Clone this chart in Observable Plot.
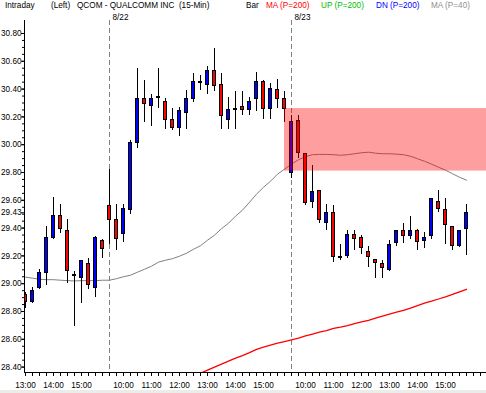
<!DOCTYPE html>
<html><head><meta charset="utf-8">
<script src="https://cdn.jsdelivr.net/npm/d3@7"></script>
<script src="https://cdn.jsdelivr.net/npm/@observablehq/plot@0.6"></script>
<style>
html,body{margin:0;padding:0;background:#ecece8;}
#wrap{position:relative;width:486px;height:393px;overflow:hidden;background:#ecece8;}
#hdr{position:absolute;left:0;top:0;width:486px;height:20px;font-family:"Liberation Sans",Arial,sans-serif;font-size:8.2px;line-height:10px;}
#hdr span{position:absolute;top:0.5px;white-space:pre;}
svg{display:block;}
</style></head><body>
<div id="wrap"><div id="chart"></div><div id="hdr"></div></div>
<script>
// ---- data ----
const dates = ["8/21", "8/22", "8/23"];
const firstBarTime = ["13:00", "9:30", "9:30"];
const barCounts = [12, 26, 26];

const opens  = [28.92,28.87,28.97,29.08,29.33,29.49,29.38,29.06,29.04,29.14,28.97,29.31,
  29.56,29.46,29.36,29.53,30.01,30.33,30.28,30.34,30.31,30.18,30.12,30.23,30.33,30.45,30.43,30.53,30.43,30.18,30.26,30.27,30.25,30.33,30.45,30.26,30.39,30.33,
  29.80,30.17,29.93,29.59,29.67,29.44,29.51,29.19,29.20,29.35,29.33,29.23,29.17,29.14,29.10,29.29,29.38,29.34,29.38,29.31,29.34,29.59,29.53,29.41,29.27,29.39];
const highs  = [28.94,28.97,29.10,29.41,29.62,29.57,29.46,29.09,29.17,29.18,29.34,29.32,
  29.82,29.57,29.57,30.03,30.55,30.46,30.36,30.55,30.33,30.26,30.27,30.39,30.51,30.50,30.56,30.69,30.51,30.34,30.38,30.38,30.34,30.52,30.46,30.44,30.47,30.38,
  30.21,30.21,29.93,29.85,29.67,29.57,29.56,29.28,29.38,29.38,29.35,29.27,29.17,29.17,29.31,29.38,29.43,29.48,29.39,29.37,29.61,29.67,29.61,29.41,29.38,29.57];
const lows   = [28.82,28.86,28.96,28.99,29.32,29.36,29.00,28.69,28.86,28.96,28.90,29.18,
  29.28,29.24,29.30,29.50,29.97,30.16,30.13,30.26,30.11,30.10,30.06,30.11,30.30,30.39,30.36,30.38,30.11,30.11,30.11,30.21,30.21,30.24,30.18,30.18,30.26,30.16,
  29.76,29.90,29.56,29.54,29.43,29.38,29.15,29.17,29.18,29.24,29.21,29.12,29.04,29.04,29.09,29.27,29.29,29.32,29.24,29.25,29.32,29.51,29.28,29.24,29.26,29.20];
const closes = [28.87,28.95,29.08,29.33,29.49,29.39,29.09,29.06,29.16,28.99,29.33,29.25,
  29.46,29.32,29.54,30.01,30.33,30.29,30.33,30.34,30.18,30.12,30.24,30.33,30.45,30.45,30.53,30.42,30.21,30.25,30.26,30.25,30.31,30.45,30.26,30.40,30.33,30.26,
  30.16,29.94,29.58,29.66,29.46,29.51,29.19,29.19,29.35,29.32,29.26,29.19,29.15,29.11,29.28,29.38,29.34,29.38,29.30,29.33,29.61,29.54,29.42,29.27,29.38,29.51];
// MA (P=40), gray
const ma40 = [29.047,29.040,29.032,29.029,29.029,29.025,29.022,29.020,29.022,29.022,29.022,29.025,
  29.025,29.036,29.050,29.061,29.083,29.104,29.126,29.155,29.169,29.180,29.198,29.219,29.248,29.273,29.313,29.349,29.396,29.435,29.486,29.529,29.586,29.644,29.694,29.737,29.788,29.824,
  29.860,29.892,29.914,29.928,29.930,29.930,29.928,29.924,29.928,29.935,29.942,29.946,29.939,29.935,29.935,29.932,29.928,29.917,29.899,29.881,29.860,29.838,29.817,29.791,29.766,29.745];
// MA (P=200), red (enters the chart from below)
const ma200 = [null,null,null,null,null,null,null,null,null,null,null,null,
  null,null,null,null,null,null,null,null,null,null,null,null,28.335,28.356,28.378,28.400,28.421,28.443,28.464,28.483,28.504,28.527,28.543,28.558,28.572,28.584,
  28.596,28.609,28.624,28.637,28.651,28.663,28.678,28.687,28.698,28.712,28.726,28.737,28.752,28.766,28.781,28.795,28.809,28.824,28.842,28.860,28.874,28.890,28.906,28.924,28.942,28.960];

const yTickValues = [28.40,28.60,28.80,29.00,29.20,29.40,29.60,29.80,30.00,30.20,30.40,30.60,30.80];
const lastPriceLabel = "29.43";
const zoneFromBar = 37, zoneLow = 29.81, zoneHigh = 30.26;

const headerTexts  = ["Intraday","(Left)","QCOM - QUALCOMM INC  (15-Min)","Bar","MA (P=200)","UP (P=200)","DN (P=200)","MA (P=40)"];
const headerColors = ["#000","#000","#000","#000","#ff0000","#00c000","#0000ff","#909090"];

// ---- build table ----
const bars = [];
let k = 0;
dates.forEach((d, di) => {
  const [h, m] = firstBarTime[di].split(":").map(Number);
  for (let j = 0; j < barCounts[di]; j++) {
    const t = h * 60 + m + 15 * j;
    bars.push({i: k, date: d, dayStart: j === 0,
      time: `${Math.floor(t / 60)}:${String(t % 60).padStart(2, "0")}`,
      open: opens[k], high: highs[k], low: lows[k], close: closes[k],
      ma40: ma40[k], ma200: ma200[k]});
    k++;
  }
});
const candles = bars.filter(b => b.open !== b.close);
const dojis = bars.filter(b => b.open === b.close);
const hourTicks = bars.filter(b => b.time.endsWith(":00")).map(b => b.i);
const allTicks = d3.range(0, 66);
const xDomain = [-1 / 7, 461 / 7];
const yDomain = [28.3612, 30.8935];
const minorTicks = d3.range(0, 49).map(j => +(28.40 + j * 0.05).toFixed(2));
const W = 0.2857;

const plot = Plot.plot({
  width: 486, height: 390,
  marginLeft: 24, marginRight: 0, marginTop: 20, marginBottom: 18,
  style: {fontFamily: "Liberation Sans, Arial, sans-serif", fontSize: "8.2px", background: "white", color: "black", overflow: "visible"},
  x: {type: "linear", domain: xDomain},
  y: {domain: yDomain},
  marks: [
    Plot.ruleX(bars.filter(b => b.dayStart && b.i > 0), {x: "i", stroke: "#808080", strokeDasharray: "5,3", shapeRendering: "crispEdges"}),
    Plot.text(bars.filter(b => b.dayStart && b.i > 0), {x: "i", text: "date", frameAnchor: "top", dy: -6, dx: 3, textAnchor: "start", fill: "black"}),
    Plot.line(bars, {x: "i", y: "ma40", stroke: "#808080", strokeWidth: 1, clip: true}),
    Plot.line(bars, {x: "i", y: "ma200", stroke: "#ff0000", strokeWidth: 1.3, clip: true}),
    Plot.ruleX(bars, {x: "i", y1: "low", y2: "high", stroke: "black", strokeWidth: 1, shapeRendering: "crispEdges", clip: true}),
    Plot.rect(candles, {x1: d => d.i - W, x2: d => d.i + W, y1: "open", y2: "close",
      fill: d => d.close > d.open ? "#0000ff" : "#ff0000", stroke: "black", strokeWidth: 1, shapeRendering: "crispEdges", clip: true}),
    Plot.ruleY(dojis, {x1: d => d.i - W, x2: d => d.i + W, y: "close", stroke: "black", strokeWidth: 2, shapeRendering: "crispEdges"}),
    Plot.rect([{from: zoneFromBar, low: zoneLow, high: zoneHigh}], {x1: "from", x2: () => xDomain[1], y1: "low", y2: "high",
      fill: "#ff0000", fillOpacity: 0.38, ariaLabel: "zone"}),
    Plot.ruleX([xDomain[0]], {stroke: "black", shapeRendering: "crispEdges"}),
    Plot.ruleY([yDomain[0]], {stroke: "black", shapeRendering: "crispEdges"}),
    Plot.axisY(minorTicks, {anchor: "left", tickSize: 2, tickFormat: () => "", label: null}),
    Plot.axisY(yTickValues, {anchor: "left", tickSize: 3, tickPadding: 0, tickFormat: d3.format(".2f"), label: null}),
    Plot.axisY([closes[closes.length - 1]], {anchor: "left", tickSize: 3, tickPadding: 0, tickFormat: () => lastPriceLabel, label: null}),
    Plot.axisX(allTicks, {anchor: "bottom", tickSize: 4, tickFormat: () => "", label: null}),
    Plot.axisX(hourTicks, {anchor: "bottom", tickSize: 4, tickPadding: 6, tickFormat: i => bars[i].time, label: null})
  ]
});

// soft shadow outside the highlighted zone
const ns = "http://www.w3.org/2000/svg";
const defs = document.createElementNS(ns, "defs");
defs.innerHTML = `<filter id="zshadow" x="-10%" y="-30%" width="130%" height="180%">
  <feColorMatrix in="SourceAlpha" type="matrix" values="0 0 0 0 0  0 0 0 0 0  0 0 0 0 0  0 0 0 20 0" result="solid"/>
  <feGaussianBlur in="solid" stdDeviation="2" result="blur"/>
  <feOffset in="blur" dx="0" dy="3" result="off"/>
  <feComposite in="off" in2="solid" operator="out" result="outside"/>
  <feColorMatrix in="outside" type="matrix" values="0 0 0 0 0  0 0 0 0 0  0 0 0 0 0  0 0 0 0.65 0" result="sh"/>
  <feMerge><feMergeNode in="sh"/><feMergeNode in="SourceGraphic"/></feMerge>
</filter>`;
plot.insertBefore(defs, plot.firstChild);
const zg = plot.querySelector('g[aria-label="zone"]');
if (zg) zg.setAttribute("filter", "url(#zshadow)");

document.getElementById("chart").appendChild(plot);

// header row
const headerLeft = [5, 51, 77, 246, 266, 321, 376, 431];
const hdr = document.getElementById("hdr");
headerTexts.forEach((t, j) => {
  const s = document.createElement("span");
  s.textContent = t;
  s.style.left = headerLeft[j] + "px";
  s.style.color = headerColors[j];
  hdr.appendChild(s);
});
</script>
</body></html>
